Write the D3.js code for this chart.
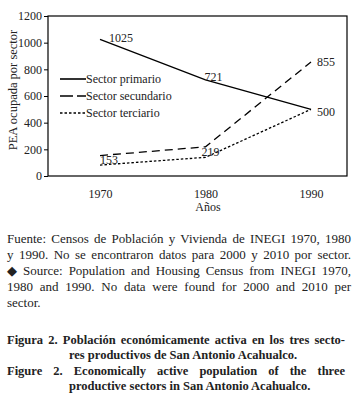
<!DOCTYPE html>
<html>
<head>
<meta charset="utf-8">
<script src="https://cdn.jsdelivr.net/npm/d3@7"></script>
<style>
    body { margin: 0; background: #fff; }
</style>
</head>
<body>
<svg id="chart" width="360" height="404"></svg>
<script>
// Données
const years = [1970, 1980, 1990];
const primario = [1025, 721, 500];
const secundario = [153, 219, 855];
const terciario = [82, 140, 500];
const yTicks = [0, 200, 400, 600, 800, 1000, 1200];
const seriesNames = ['Sector primario', 'Sector secundario', 'Sector terciario'];
const yTitle = 'PEA ocupada por sector';
const xTitle = 'Años';

const fuenteLines = [
    'Fuente: Censos de Población y Vivienda de INEGI 1970, 1980',
    'y 1990. No se encontraron datos para 2000 y 2010 por sector.',
    '◆ Source: Population and Housing Census from INEGI 1970,',
    '1980 and 1990. No data were found for 2000 and 2010 per',
    'sector.'
];
const figuraLines = [
    'Figura 2. Población económicamente activa en los tres secto-',
    'res productivos de San Antonio Acahualco.',
    'Figure 2. Economically active population of the three',
    'productive sectors in San Antonio Acahualco.'
];

const FONT = '"Liberation Serif", "DejaVu Serif", serif';

const svg = d3.select('#chart')
              .attr('font-family', FONT);

const box = { left: 48, right: 347, top: 16, bottom: 176 };

const x = d3.scaleLinear()
            .domain([1970, 1990])
            .range([100, 311]);

const y = d3.scaleLinear()
            .domain([0, 1200])
            .range([box.bottom, box.top]);

// Cadre
svg.append('rect')
   .attr('x', box.left)
   .attr('y', box.top)
   .attr('width', box.right - box.left)
   .attr('height', box.bottom - box.top)
   .attr('fill', 'none')
   .attr('stroke', '#000')
   .attr('stroke-width', 1.2);

// Axe Y
const yAxis = svg.append('g')
                 .attr('transform', `translate(${box.left},0)`)
                 .call(d3.axisLeft(y).tickValues(yTicks).tickFormat(d3.format('d')).tickSize(4).tickPadding(2));
yAxis.attr('font-family', FONT).attr('font-size', 12);
yAxis.select('.domain').remove();
yAxis.selectAll('text').attr('fill', '#222');
yAxis.selectAll('line').attr('stroke', '#000');

// Axe X (sans graduations)
const xAxis = svg.append('g')
                 .attr('transform', `translate(0,${box.bottom})`)
                 .call(d3.axisBottom(x).tickValues(years).tickFormat(d3.format('d')).tickSize(0).tickPadding(13));
xAxis.attr('font-family', FONT).attr('font-size', 12);
xAxis.select('.domain').remove();
xAxis.selectAll('text').attr('fill', '#222');

// Titres des axes
svg.append('text')
   .attr('transform', 'rotate(-90)')
   .attr('x', -90)
   .attr('y', 17)
   .attr('text-anchor', 'middle')
   .attr('font-size', 12.5)
   .attr('fill', '#222')
   .text(yTitle);

svg.append('text')
   .attr('x', 208)
   .attr('y', 211)
   .attr('text-anchor', 'middle')
   .attr('font-size', 12)
   .attr('fill', '#222')
   .text(xTitle);

// Séries
const series = [
    { name: seriesNames[0], values: primario, dash: null, legendDash: null },
    { name: seriesNames[1], values: secundario, dash: '8,5', legendDash: '13,4' },
    { name: seriesNames[2], values: terciario, dash: '2.5,2', legendDash: '2.5,2' }
];

const line = d3.line()
               .x((d, i) => x(years[i]))
               .y(d => y(d));

series.forEach(s => {
    svg.append('path')
       .datum(s.values)
       .attr('fill', 'none')
       .attr('stroke', '#000')
       .attr('stroke-width', 1.3)
       .attr('stroke-dasharray', s.dash)
       .attr('d', line);
});

// Étiquettes de valeurs
const valueLabels = [
    { values: primario, i: 0, dx: 9, dy: 3 },
    { values: primario, i: 1, dx: -1, dy: 1 },
    { values: primario, i: 2, dx: 6, dy: 7 },
    { values: secundario, i: 0, dx: 0, dy: 8 },
    { values: secundario, i: 1, dx: -4, dy: 9 },
    { values: secundario, i: 2, dx: 6, dy: 4 }
];

svg.append('g')
   .selectAll('text')
   .data(valueLabels)
   .join('text')
   .attr('x', d => x(years[d.i]) + d.dx)
   .attr('y', d => y(d.values[d.i]) + d.dy)
   .attr('font-size', 12)
   .attr('fill', '#222')
   .text(d => d.values[d.i]);

// Légende
const legend = svg.append('g')
                  .attr('transform', 'translate(60,79)');

series.forEach((s, i) => {
    legend.append('line')
          .attr('x1', 0)
          .attr('x2', 26)
          .attr('y1', i * 17)
          .attr('y2', i * 17)
          .attr('stroke', '#000')
          .attr('stroke-width', 1.6)
          .attr('stroke-dasharray', s.legendDash);
    legend.append('text')
          .attr('x', 26)
          .attr('y', i * 17 + 4)
          .attr('font-size', 12)
          .attr('fill', '#222')
          .text(s.name);
});

// Texte justifié : espacement des mots calculé
function drawLine(text, xPos, yPos, opts) {
    const t = svg.append('text')
                 .attr('x', xPos)
                 .attr('y', yPos)
                 .attr('font-size', opts.size)
                 .attr('font-weight', opts.bold ? 'bold' : null)
                 .attr('fill', '#222')
                 .text(text);
    if (opts.justifyTo) {
        const natural = t.node().getComputedTextLength();
        const spaces = (text.match(/ /g) || []).length;
        const extra = (opts.justifyTo - xPos - natural) / spaces;
        t.attr('word-spacing', extra);
    }
    return t;
}

const fuenteY = [243, 259, 275, 291, 307];
fuenteLines.forEach((l, i) => {
    drawLine(l, 7, fuenteY[i], { size: 13, justifyTo: i < 4 ? 351 : null });
});

const figuraY = [344, 359, 375, 390];
const figuraX = [7, 69, 7, 69];
figuraLines.forEach((l, i) => {
    drawLine(l, figuraX[i], figuraY[i], { size: 12.5, bold: true, justifyTo: i % 2 === 0 ? 345 : null });
});
</script>
</body>
</html>
